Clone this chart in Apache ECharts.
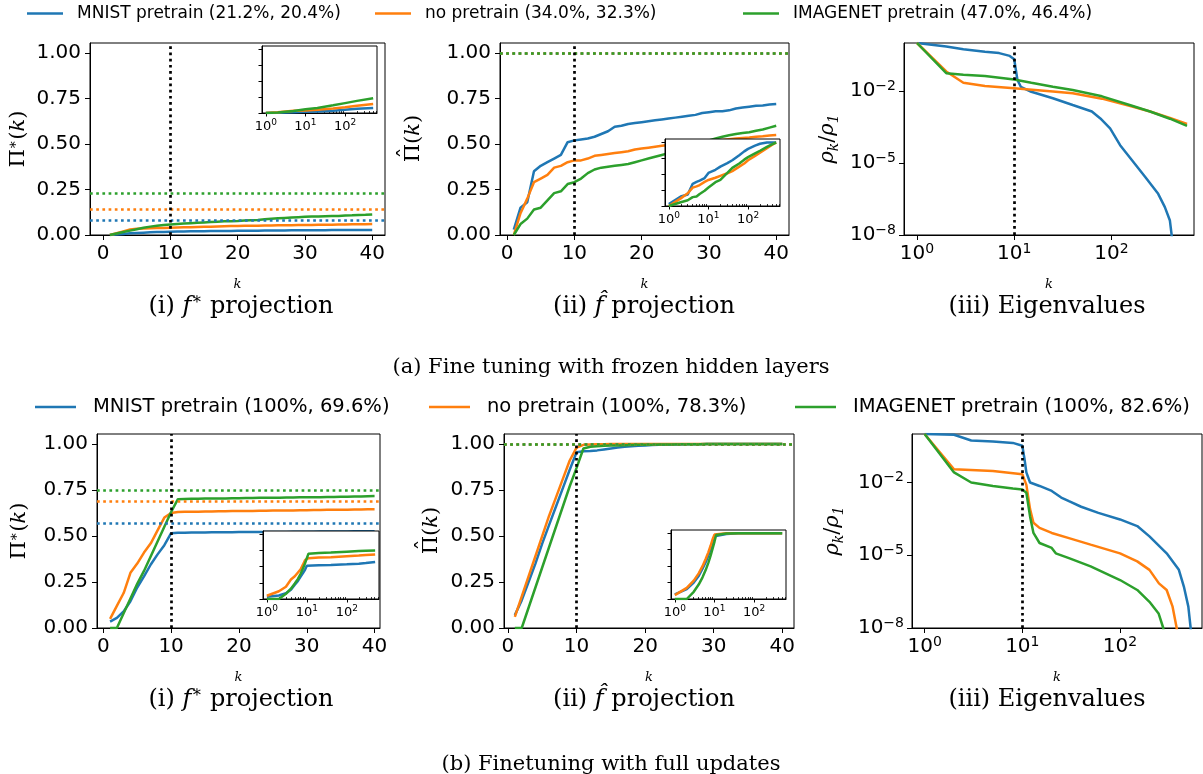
<!DOCTYPE html>
<html>
<head>
<meta charset="utf-8">
<script src="https://cdn.jsdelivr.net/npm/echarts@6/dist/echarts.min.js"></script>
<style>
html, body { margin: 0; padding: 0; background: #fff; }
#chart { width: 1203px; height: 774px; }
</style>
</head>
<body>
<div id="chart"></div>
<script>
// series names (legend text)
var namesFrozen = ['MNIST pretrain (21.2%, 20.4%)', 'no pretrain (34.0%, 32.3%)', 'IMAGENET pretrain (47.0%, 46.4%)'];
var namesFull = ['MNIST pretrain (100%, 69.6%)', 'no pretrain (100%, 78.3%)', 'IMAGENET pretrain (100%, 82.6%)'];

var kSteps = [1,2,3,4,5,6,7,8,9,10,11,12,13,14,15,16,17,18,19,20,21,22,23,24,25,26,27,28,29,30,31,32,33,34,35,36,37,38,39,40];
var linTicks = [0, 10, 20, 30, 40];
var fracTicks = [0, 0.25, 0.5, 0.75, 1];
var logTicksK = [1, 10, 100];
var logMinorK = [2,3,4,5,6,7,8,9,20,30,40,50,60,70,80,90,200,300,400,500,600];
var logTicksRho = [1e-8, 1e-5, 1e-2];

// (a) frozen hidden layers, f* projection
var starFrozenMnist = [0,0.003,0.006,0.009,0.011,0.013,0.015,0.016,0.017,0.018,0.019,0.0195,0.02,0.0205,0.021,0.0215,0.022,0.0222,0.0225,0.023,0.0233,0.0236,0.024,0.0243,0.0246,0.025,0.0253,0.0256,0.0258,0.026,0.0262,0.0265,0.0267,0.027,0.0272,0.0274,0.0276,0.0278,0.0279,0.028];
var starFrozenNone = [0,0.01,0.02,0.03,0.034,0.036,0.037,0.038,0.039,0.040,0.041,0.042,0.043,0.044,0.045,0.046,0.047,0.048,0.049,0.050,0.0505,0.051,0.0515,0.052,0.0525,0.053,0.0535,0.054,0.0545,0.055,0.0555,0.056,0.0565,0.057,0.0575,0.058,0.0585,0.059,0.0595,0.060];
var starFrozenImagenet = [0,0.008,0.016,0.024,0.032,0.040,0.046,0.051,0.055,0.058,0.061,0.063,0.065,0.067,0.069,0.071,0.073,0.075,0.076,0.077,0.079,0.081,0.083,0.086,0.089,0.092,0.094,0.096,0.098,0.100,0.101,0.102,0.103,0.104,0.105,0.107,0.108,0.110,0.111,0.113];
var starFrozenLimit = [0.077, 0.141, 0.229];
var insetStarFrozenK = [1,2,5,10,20,50,100,200,512];
var insetStarFrozenMnist = [0,0.003,0.011,0.018,0.023,0.035,0.05,0.065,0.08];
var insetStarFrozenNone = [0,0.01,0.034,0.04,0.05,0.07,0.09,0.115,0.14];
var insetStarFrozenImagenet = [0,0.008,0.032,0.058,0.077,0.12,0.155,0.19,0.23];

// (a) frozen hidden layers, f-hat projection
var hatFrozenMnist = [0.03,0.15,0.18,0.35,0.38,0.40,0.42,0.44,0.51,0.52,0.525,0.53,0.54,0.555,0.57,0.595,0.60,0.61,0.615,0.62,0.625,0.63,0.635,0.64,0.645,0.65,0.655,0.66,0.67,0.675,0.68,0.68,0.685,0.695,0.70,0.705,0.71,0.712,0.717,0.72];
var hatFrozenNone = [0,0.12,0.2,0.29,0.31,0.33,0.37,0.38,0.40,0.41,0.41,0.42,0.435,0.44,0.445,0.45,0.455,0.46,0.47,0.475,0.48,0.485,0.49,0.495,0.50,0.503,0.506,0.51,0.512,0.515,0.518,0.522,0.526,0.53,0.533,0.536,0.54,0.543,0.547,0.55];
var hatFrozenImagenet = [0,0.06,0.09,0.14,0.15,0.19,0.23,0.24,0.28,0.29,0.31,0.34,0.36,0.37,0.375,0.38,0.385,0.39,0.40,0.41,0.42,0.43,0.44,0.45,0.46,0.47,0.48,0.495,0.51,0.52,0.53,0.54,0.548,0.555,0.56,0.565,0.573,0.58,0.59,0.60];
var hatFrozenLimit = [1.0, 1.0, 1.0];
var insetHatFrozenK = [1,2,3,4,5,6,8,10,15,20,30,40,60,80,100,150,200,300,400,512];
var insetHatFrozenMnist = [0.03,0.15,0.18,0.35,0.38,0.40,0.44,0.52,0.57,0.62,0.675,0.72,0.80,0.86,0.90,0.95,0.98,1.0,1.0,1.0];
var insetHatFrozenNone = [0,0.12,0.2,0.29,0.31,0.33,0.38,0.41,0.445,0.475,0.515,0.55,0.62,0.67,0.72,0.79,0.84,0.91,0.96,1.0];
var insetHatFrozenImagenet = [0,0.06,0.09,0.14,0.15,0.19,0.24,0.29,0.375,0.41,0.52,0.6,0.67,0.73,0.77,0.83,0.87,0.93,0.97,1.0];

// (a) frozen hidden layers, eigenvalues
var eigFrozenMnistK = [1,2,3,5,7,9,10,10.8,11.7,15,25,40,63,77,97,123,163,223,303,355,400,417,440];
var eigFrozenMnist = [1,0.72,0.55,0.43,0.38,0.29,0.21,0.029,0.015,0.0093,0.005,0.0026,0.0014,7.2e-4,2.75e-4,5.5e-5,1.3e-5,2.6e-6,5.2e-7,1.45e-7,4e-8,1e-8,1e-10];
var eigFrozenNoneK = [1,2,3,5,10,25,40,80,160,250,400,600];
var eigFrozenNone = [1,0.065,0.022,0.016,0.013,0.0095,0.008,0.0048,0.0023,0.0014,7.5e-4,4.2e-4];
var eigFrozenImagenetK = [1,2,3,5,10,15,25,40,80,160,250,400,600];
var eigFrozenImagenet = [1,0.055,0.048,0.042,0.03,0.022,0.015,0.011,0.006,0.0025,0.0014,7e-4,3.5e-4];

// (b) full updates, f* projection
var starFullMnist = [0.035,0.055,0.09,0.145,0.22,0.28,0.345,0.40,0.45,0.515,0.518,0.518,0.519,0.519,0.519,0.52,0.52,0.52,0.52,0.521,0.521,0.521,0.521,0.522,0.522,0.522,0.522,0.523,0.523,0.523,0.523,0.524,0.524,0.524,0.524,0.524,0.525,0.525,0.525,0.525];
var starFullNone = [0.05,0.12,0.19,0.30,0.35,0.41,0.46,0.53,0.60,0.625,0.63,0.631,0.632,0.632,0.633,0.633,0.634,0.634,0.635,0.635,0.636,0.636,0.637,0.637,0.638,0.638,0.639,0.639,0.64,0.64,0.641,0.641,0.642,0.642,0.643,0.643,0.644,0.644,0.645,0.645];
var starFullImagenet = [0,0,0.08,0.16,0.24,0.31,0.39,0.47,0.55,0.63,0.70,0.701,0.702,0.702,0.703,0.703,0.704,0.704,0.705,0.705,0.706,0.706,0.707,0.707,0.708,0.708,0.709,0.709,0.71,0.71,0.711,0.711,0.712,0.712,0.713,0.713,0.714,0.715,0.716,0.717];
var starFullLimit = [0.572, 0.689, 0.75];
var insetStarFullK = [1,2,3,4,5,6,7,8,9,10,11,20,40,100,200,300,512];
var insetStarFullMnist = [0.035,0.055,0.09,0.145,0.22,0.28,0.345,0.40,0.45,0.515,0.518,0.522,0.525,0.535,0.545,0.555,0.572];
var insetStarFullNone = [0.05,0.12,0.19,0.30,0.35,0.41,0.46,0.53,0.60,0.625,0.63,0.64,0.645,0.66,0.67,0.68,0.689];
var insetStarFullImagenet = [0,0,0.08,0.16,0.24,0.31,0.39,0.47,0.55,0.63,0.70,0.71,0.717,0.73,0.74,0.745,0.75];

// (b) full updates, f-hat projection
var hatFullMnist = [0.07,0.15,0.25,0.35,0.46,0.56,0.66,0.76,0.86,0.955,0.96,0.962,0.965,0.97,0.975,0.98,0.985,0.988,0.99,0.992,0.994,0.995,0.996,0.997,0.997,0.998,0.998,0.998,0.999,0.999,0.999,0.999,0.999,1,1,1,1,1,1,1];
var hatFullNone = [0.06,0.17,0.28,0.39,0.50,0.61,0.71,0.81,0.91,0.98,0.995,0.997,0.998,0.998,0.999,0.999,0.999,0.999,0.999,1,1,1,1,1,1,1,1,1,1,1,1,1,1,1,1,1,1,1,1,1];
var hatFullImagenet = [0,0,0.11,0.22,0.33,0.44,0.55,0.66,0.77,0.87,0.975,0.985,0.988,0.99,0.991,0.992,0.993,0.994,0.995,0.996,0.996,0.997,0.997,0.997,0.998,0.998,0.998,0.998,0.999,0.999,0.999,0.999,0.999,0.999,1,1,1,1,1,1];
var hatFullLimit = [1.0, 1.0, 1.0];
var insetHatFullK = [1,2,3,4,5,6,7,8,9,10,11,20,40,100,512];
var insetHatFullMnist = [0.07,0.15,0.25,0.35,0.46,0.56,0.66,0.76,0.86,0.955,0.96,0.99,0.999,1,1];
var insetHatFullNone = [0.06,0.17,0.28,0.39,0.50,0.61,0.71,0.81,0.91,0.98,0.995,0.999,1,1,1];
var insetHatFullImagenet = [0,0,0.11,0.22,0.33,0.44,0.55,0.66,0.77,0.87,0.975,0.995,0.999,1,1];

// (b) full updates, eigenvalues
var eigFullMnistK = [1,2,3,5,8,10,10.5,11,12,15,20,25,30,40,60,100,150,200,300,400,450,500,528,560];
var eigFullMnist = [1,0.93,0.54,0.49,0.43,0.33,0.1,0.026,0.01,0.0072,0.0045,0.0024,0.0017,0.001,5.6e-4,3e-4,1.6e-4,6e-5,1.2e-5,2.5e-6,5.1e-7,7.6e-8,1e-8,1e-10];
var eigFullNoneK = [1,2,5,10,11,12,13,15,20,30,50,100,150,200,250,300,345,380,400];
var eigFullNone = [1,0.035,0.03,0.022,0.008,8e-4,2.2e-4,1.35e-4,8.3e-5,5.1e-5,2.75e-5,1.2e-5,5.6e-6,2.5e-6,6.9e-7,3.7e-7,7.6e-8,1e-8,1e-10];
var eigFullImagenetK = [1,2,3,5,8,10,11,12,13,15,20,22,30,50,100,150,200,248,277,295];
var eigFullImagenet = [1,0.026,0.01,0.0072,0.0056,0.0052,0.0038,4e-4,8.3e-5,3.2e-5,2e-5,1.2e-5,7.6e-6,3.5e-6,9.5e-7,3.7e-7,1.2e-7,4e-8,1e-8,1e-10];

var BLUE = '#1f77b4', ORANGE = '#ff7f0e', GREEN = '#2ca02c';
var COLORS = [BLUE, ORANGE, GREEN];
var SANS = 'DejaVu Sans', SERIF = 'DejaVu Serif';

function pairs(xs, ys) {
	return xs.map(function(x, i) { return [x, ys[i]]; });
}

function powLabel(v) {
	var e = Math.round(Math.log10(v));
	return '{b|10}{s|' + (e < 0 ? '\u2212' + (-e) : e) + '}';
}

function powRich(size) {
	var sup = Math.round(size * 0.7);
	return {
		b: {fontFamily: SANS, fontSize: size, color: '#000', lineHeight: size + 4},
		s: {fontFamily: SANS, fontSize: sup, color: '#000', lineHeight: sup, verticalAlign: 'top'}
	};
}

var nameRich = {
	t: {fontFamily: SERIF, fontSize: 21, color: '#000', lineHeight: 26},
	i: {fontFamily: SERIF, fontStyle: 'italic', fontSize: 21, color: '#000', lineHeight: 26},
	s: {fontFamily: SERIF, fontSize: 14, color: '#000', lineHeight: 14, verticalAlign: 'top'},
	d: {fontFamily: SERIF, fontStyle: 'italic', fontSize: 14, color: '#000', lineHeight: 14, verticalAlign: 'bottom'}
};
var starName = '{t|\u03a0}{s|\u2217}{t|(}{i|k}{t|)}';
var rhoName = '{i|\u03c1}{d|k}{t|/}{i|\u03c1}{d|1}';

var axisLine = {show: true, onZero: false, lineStyle: {color: '#000', width: 1}};
var kName = {fontFamily: SERIF, fontStyle: 'italic', fontSize: 13, color: '#000'};

function linX(g, min, max) {
	return {
		type: 'value', gridIndex: g, min: min, max: max,
		axisLine: axisLine,
		axisTick: {show: true, length: 5, customValues: linTicks, lineStyle: {color: '#000'}},
		axisLabel: {customValues: linTicks, fontFamily: SANS, fontSize: 20, color: '#000', margin: 9},
		splitLine: {show: false},
		name: 'k', nameLocation: 'middle', nameGap: 43, nameTextStyle: kName
	};
}

function logX(g, min, max) {
	return {
		type: 'log', logBase: 10, gridIndex: g, min: min, max: max,
		axisLine: axisLine,
		axisTick: {show: true, length: 5, customValues: logTicksK, lineStyle: {color: '#000'}},
		axisLabel: {customValues: logTicksK, formatter: powLabel, rich: powRich(20), margin: 7},
		splitLine: {show: false},
		name: 'k', nameLocation: 'middle', nameGap: 43, nameTextStyle: kName
	};
}

function linY(g, max, name, gap) {
	return {
		type: 'value', gridIndex: g, min: 0, max: max,
		axisLine: axisLine,
		axisTick: {show: true, length: 5, customValues: fracTicks, lineStyle: {color: '#000'}},
		axisLabel: {customValues: fracTicks, formatter: function(v) { return v.toFixed(2); }, fontFamily: SANS, fontSize: 20, color: '#000', margin: 9},
		splitLine: {show: false},
		name: name, nameLocation: 'middle', nameRotate: 90, nameGap: gap,
		nameTextStyle: {rich: nameRich}
	};
}

function logY(g, gap) {
	return {
		type: 'log', logBase: 10, gridIndex: g, min: 1e-8, max: 1,
		axisLine: axisLine,
		axisTick: {show: true, length: 5, customValues: logTicksRho, lineStyle: {color: '#000'}},
		axisLabel: {customValues: logTicksRho, formatter: powLabel, rich: powRich(20), margin: 8},
		splitLine: {show: false},
		name: rhoName, nameLocation: 'middle', nameRotate: 90, nameGap: gap,
		nameTextStyle: {rich: nameRich}
	};
}

// inset axes
function insetX(g, min, max) {
	return {
		type: 'log', logBase: 10, gridIndex: g, min: min, max: max, z: 11,
		axisLine: axisLine,
		axisTick: {show: true, length: 3.5, customValues: logTicksK, lineStyle: {color: '#000'}},
		axisLabel: {customValues: logTicksK, formatter: powLabel, rich: powRich(13), margin: 5},
		splitLine: {show: false}
	};
}

function insetMinorX(g, min, max) {
	return {
		type: 'log', logBase: 10, gridIndex: g, min: min, max: max, z: 11,
		axisLine: {show: false},
		axisTick: {show: true, length: 2, customValues: logMinorK, lineStyle: {color: '#000', width: 0.8}},
		axisLabel: {show: false},
		splitLine: {show: false}
	};
}

function insetY(g, max) {
	return {
		type: 'value', gridIndex: g, min: 0, max: max, z: 11,
		axisLine: axisLine,
		axisTick: {show: true, length: 3.5, customValues: fracTicks, lineStyle: {color: '#000'}},
		axisLabel: {show: false},
		splitLine: {show: false}
	};
}

function dotted(color) {
	return {color: color, type: [2.7, 3.5], width: 2.7, cap: 'butt'};
}

function line(name, color, xi, yi, xs, ys, z, marks) {
	var s = {
		type: 'line', name: name, xAxisIndex: xi, yAxisIndex: yi,
		data: pairs(xs, ys), symbol: 'none', showSymbol: false, clip: true,
		lineStyle: {color: color, width: 2.5}, itemStyle: {color: color},
		z: z, silent: true
	};
	if (marks) {
		s.markLine = {silent: true, symbol: ['none', 'none'], label: {show: false}, data: marks};
	}
	return s;
}

var series = [];

function mainPanel(g, names, vals, limits) {
	for (var i = 0; i < 3; i++) {
		var marks = [];
		if (limits) marks.push({yAxis: limits[i], lineStyle: dotted(COLORS[i])});
		if (i == 2) marks.push({xAxis: 10, lineStyle: dotted('#000')});
		series.push(line(names[i], COLORS[i], g, g, kSteps, vals[i], 2, marks));
	}
}

function eigPanel(g, names, ks, vals) {
	for (var i = 0; i < 3; i++) {
		var marks = i == 2 ? [{xAxis: 10, lineStyle: dotted('#000')}] : null;
		series.push(line(names[i], COLORS[i], g, g, ks[i], vals[i], 2, marks));
	}
}

function insetPanel(g, names, ks, vals) {
	for (var i = 0; i < 3; i++) {
		var marks = i == 2 ? [{xAxis: 10, lineStyle: dotted('#000')}] : null;
		series.push(line(names[i], COLORS[i], g, g, ks, vals[i], 12, marks));
	}
}

mainPanel(0, namesFrozen, [starFrozenMnist, starFrozenNone, starFrozenImagenet], starFrozenLimit);
mainPanel(1, namesFrozen, [hatFrozenMnist, hatFrozenNone, hatFrozenImagenet], hatFrozenLimit);
eigPanel(2, namesFrozen, [eigFrozenMnistK, eigFrozenNoneK, eigFrozenImagenetK], [eigFrozenMnist, eigFrozenNone, eigFrozenImagenet]);
mainPanel(3, namesFull, [starFullMnist, starFullNone, starFullImagenet], starFullLimit);
mainPanel(4, namesFull, [hatFullMnist, hatFullNone, hatFullImagenet], hatFullLimit);
eigPanel(5, namesFull, [eigFullMnistK, eigFullNoneK, eigFullImagenetK], [eigFullMnist, eigFullNone, eigFullImagenet]);
insetPanel(6, namesFrozen, insetStarFrozenK, [insetStarFrozenMnist, insetStarFrozenNone, insetStarFrozenImagenet]);
insetPanel(7, namesFrozen, insetHatFrozenK, [insetHatFrozenMnist, insetHatFrozenNone, insetHatFrozenImagenet]);
insetPanel(8, namesFull, insetStarFullK, [insetStarFullMnist, insetStarFullNone, insetStarFullImagenet]);
insetPanel(9, namesFull, insetHatFullK, [insetHatFullMnist, insetHatFullNone, insetHatFullImagenet]);

function frame(left, top, width, height, z) {
	return {left: left, top: top, width: width, height: height, show: true, borderColor: '#000', borderWidth: 1, backgroundColor: '#fff', z: z || 0};
}

var IN_MIN = 0.8, IN_MAX = 640;

var xAxes = [
	linX(0, -1.95, 41.9), linX(1, -1.05, 41.9), logX(2, 0.735, 708),
	linX(3, -0.93, 40.8), linX(4, -0.58, 41.7), logX(5, 0.743, 690),
	insetX(6, IN_MIN, IN_MAX), insetX(7, IN_MIN, IN_MAX), insetX(8, IN_MIN, IN_MAX), insetX(9, IN_MIN, IN_MAX),
	insetMinorX(6, IN_MIN, IN_MAX), insetMinorX(7, IN_MIN, IN_MAX), insetMinorX(8, IN_MIN, IN_MAX), insetMinorX(9, IN_MIN, IN_MAX)
];
var yAxes = [
	linY(0, 1.055, starName, 58), linY(1, 1.055, '', 72), logY(2, 63),
	linY(3, 1.054, starName, 64), linY(4, 1.054, '', 59), logY(5, 66),
	insetY(6, 1.05), insetY(7, 1.055), insetY(8, 1.05), insetY(9, 1.05)
];

function legendItem(name, left, top, size, lineW, gap) {
	return {
		data: [name], left: left, top: top, orient: 'horizontal',
		icon: 'rect', itemWidth: lineW, itemHeight: 2.7, itemGap: 0, padding: 0,
		selectedMode: false,
		textStyle: {fontFamily: SANS, fontSize: size, color: '#000', padding: [0, 0, 0, gap]}
	};
}

function capRich(size) {
	return {
		t: {fontFamily: SERIF, fontSize: size, color: '#000', lineHeight: size + 6},
		i: {fontFamily: SERIF, fontStyle: 'italic', fontSize: size, color: '#000', lineHeight: size + 6},
		s: {fontFamily: SERIF, fontSize: Math.round(size * 0.65), color: '#000', lineHeight: Math.round(size * 0.65), verticalAlign: 'top'}
	};
}

function caption(text, x, y, size) {
	return {type: 'text', x: x, y: y, z: 20, style: {text: text, rich: capRich(size), align: 'center', verticalAlign: 'middle', fontFamily: SERIF, fontSize: size, fill: '#000'}};
}

// rotated "Pi-hat (k)" label: Pi with a hat drawn above it, then "(k)"
function hatLabel(cx, cy) {
	return {
		type: 'group', x: cx, y: cy, rotation: Math.PI / 2, z: 20,
		children: [
			{type: 'text', x: -14, y: 0, style: {text: '\u03a0', font: '21px "DejaVu Serif"', fill: '#000', align: 'center', verticalAlign: 'middle'}},
			{type: 'text', x: -14, y: -6, style: {text: '\u02c6', font: '22px "DejaVu Serif"', fill: '#000', align: 'center', verticalAlign: 'middle'}},
			{type: 'text', x: -5, y: 0, style: {text: '{t|(}{i|k}{t|)}', rich: nameRich, align: 'left', verticalAlign: 'middle'}}
		]
	};
}

var captions = [
	caption('{t|(i) }{i|f}{s|\u2217}{t| projection}', 241, 307, 24),
	caption('{t|(ii) }{i|f\u0302}{t| projection}', 644, 307, 24),
	caption('{t|(iii) Eigenvalues}', 1047, 307, 24),
	caption('{t|(a) Fine tuning with frozen hidden layers}', 611, 368, 21),
	caption('{t|(i) }{i|f}{s|\u2217}{t| projection}', 241, 700, 24),
	caption('{t|(ii) }{i|f\u0302}{t| projection}', 644, 700, 24),
	caption('{t|(iii) Eigenvalues}', 1047, 700, 24),
	caption('{t|(b) Finetuning with full updates}', 611, 765, 21),
	hatLabel(414, 139),
	hatLabel(432, 531)
];

var chart = echarts.init(document.getElementById('chart'), null, {renderer: 'canvas'});
chart.setOption({
	animation: false,
	backgroundColor: '#fff',
	textStyle: {fontFamily: SANS},
	grid: [
		frame(90, 43, 295, 192), frame(500, 43, 289, 192), frame(904, 43, 290, 192),
		frame(97, 434, 283, 194), frame(504, 434, 290, 194), frame(912, 434, 290, 194),
		frame(262, 46, 115, 67, 10), frame(665, 139, 115, 67, 10),
		frame(263, 531, 116, 68, 10), frame(671, 530, 115, 69, 10)
	],
	xAxis: xAxes,
	yAxis: yAxes,
	legend: [
		legendItem(namesFrozen[0], 27, 5, 17, 36, 9), legendItem(namesFrozen[1], 375, 5, 17, 36, 9), legendItem(namesFrozen[2], 743, 5, 17, 36, 9),
		legendItem(namesFull[0], 35, 397, 19.5, 41, 12), legendItem(namesFull[1], 429, 397, 19.5, 41, 12), legendItem(namesFull[2], 795, 397, 19.5, 41, 12)
	],
	graphic: captions,
	series: series
});
</script>
</body>
</html>
